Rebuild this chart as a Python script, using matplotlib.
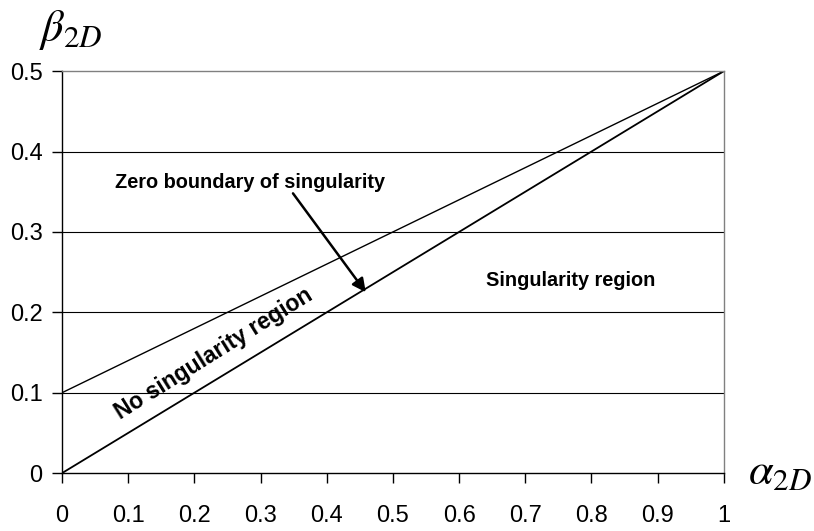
import matplotlib
matplotlib.use("Agg")
import matplotlib.pyplot as plt

plt.rcParams['font.family'] = ['Liberation Sans', 'DejaVu Sans']
plt.rcParams['mathtext.fontset'] = 'stix'

# boundary lines (alpha_2D, beta_2D)
alpha_pts = [0.0, 1.0]
beta_zero = [0.0, 0.5]       # zero boundary of singularity
beta_upper = [0.1, 0.5]      # upper boundary

x_ticks = [0, 0.1, 0.2, 0.3, 0.4, 0.5, 0.6, 0.7, 0.8, 0.9, 1]
x_labels = ['0', '0.1', '0.2', '0.3', '0.4', '0.5', '0.6', '0.7', '0.8', '0.9', '1']
y_ticks = [0, 0.1, 0.2, 0.3, 0.4, 0.5]
y_labels = ['0', '0.1', '0.2', '0.3', '0.4', '0.5']

fig = plt.figure(figsize=(8.14, 5.31), dpi=100)
ax = fig.add_axes([0.0762, 0.109, 0.813, 0.757])

# horizontal gridlines
for y in y_ticks[1:-1]:
    ax.axhline(y, color='black', lw=0.8, zorder=1)

ax.plot(alpha_pts, beta_upper, color='black', lw=1.0, zorder=2)
ax.plot(alpha_pts, beta_zero, color='black', lw=1.3, zorder=2)

ax.set_xlim(0, 1)
ax.set_ylim(0, 0.5)
ax.set_xticks(x_ticks)
ax.set_xticklabels(x_labels)
ax.set_yticks(y_ticks)
ax.set_yticklabels(y_labels)
ax.tick_params(axis='both', direction='out', length=7, width=1.0,
               labelsize=17, colors='black')
ax.tick_params(axis='x', pad=16)
ax.tick_params(axis='y', pad=7)

for side in ['left', 'bottom']:
    ax.spines[side].set_color('black')
    ax.spines[side].set_linewidth(1.0)
for side in ['top', 'right']:
    ax.spines[side].set_color('#808080')
    ax.spines[side].set_linewidth(1.0)

# axis labels
fig.text(0.087, 0.943, r'$\beta_{2D}$', fontsize=32, ha='center', va='center')
fig.text(0.958, 0.111, r'$\alpha_{2D}$', fontsize=32, ha='center', va='center')

# annotations
ax.text(0.284, 0.362, 'Zero boundary of singularity', fontsize=14.3,
        fontweight='bold', ha='center', va='center')
ax.annotate('', xy=(0.459, 0.225), xytext=(0.349, 0.348),
            arrowprops=dict(arrowstyle='-|>', color='black', lw=1.8,
                            mutation_scale=20, shrinkA=0, shrinkB=0))
ax.text(0.769, 0.240, 'Singularity region', fontsize=14.3, fontweight='bold',
        ha='center', va='center')
ax.text(0.230, 0.148, 'No singularity region', fontsize=16.5, fontweight='bold',
        ha='center', va='center', rotation=32, rotation_mode='anchor')

fig.savefig('out.png', dpi=100)
